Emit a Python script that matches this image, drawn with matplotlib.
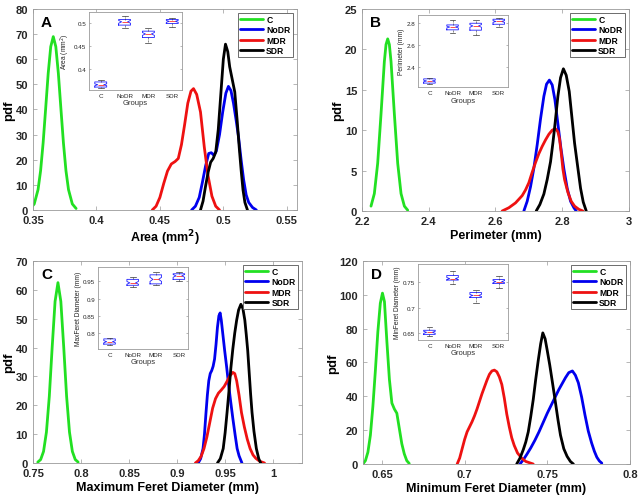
import matplotlib
matplotlib.use("Agg")
import matplotlib.pyplot as plt
from matplotlib.ticker import FormatStrFormatter

plt.rcParams["font.family"] = ["Liberation Sans", "DejaVu Sans"]

GROUPS = ["C", "NoDR", "MDR", "SDR"]
COLORS = {"C": "#22e022", "NoDR": "#0000ee", "MDR": "#ee1111", "SDR": "#000000"}

# ---- A: Area (mm^2) ----
area_c_x = [0.348, 0.351, 0.354, 0.356, 0.358, 0.360, 0.362, 0.364, 0.366, 0.368, 0.370,
            0.372, 0.374, 0.376, 0.378, 0.381, 0.384]
area_c_pdf = [0.6, 2.4, 8.1, 15.6, 26.7, 40.4, 54.4, 65.0, 69.0, 65.0, 54.4,
              40.4, 26.7, 15.6, 8.1, 2.4, 0.6]
area_nodr_x = [0.475, 0.478, 0.481, 0.4835, 0.486, 0.4885, 0.4905, 0.4925, 0.4945, 0.497,
               0.4995, 0.502, 0.504, 0.506, 0.508, 0.510, 0.512, 0.514, 0.516, 0.518,
               0.520, 0.523, 0.526]
area_nodr_pdf = [0, 1.5, 5, 11, 17.5, 22.5, 22.8, 21.8, 23.5, 30,
                 39, 46.5, 49.2, 47.5, 42.5, 36, 29, 20, 12, 6,
                 3, 1, 0]
area_mdr_x = [0.444, 0.447, 0.450, 0.453, 0.456, 0.459, 0.462, 0.4645, 0.467, 0.4695,
              0.472, 0.4745, 0.4765, 0.479, 0.482, 0.485, 0.488, 0.491, 0.494, 0.497]
area_mdr_pdf = [0, 1.5, 5, 10.5, 15.5, 18.3, 19.3, 20.5, 26, 34,
                42.5, 47.3, 48.3, 46, 39, 25, 13.5, 5.5, 1.5, 0]
area_sdr_x = [0.482, 0.484, 0.486, 0.488, 0.490, 0.492, 0.494, 0.496, 0.498, 0.500,
              0.5017, 0.5035, 0.505, 0.507, 0.509, 0.511, 0.5125, 0.514, 0.5155, 0.517, 0.519]
area_sdr_pdf = [0, 3.5, 9.5, 15, 19, 20.5, 23, 32, 46, 60,
                66, 63, 57, 52, 47, 35, 25, 16, 8, 3, 0]

# ---- B: Perimeter (mm) ----
perim_c_x = [2.227, 2.237, 2.247, 2.257, 2.267, 2.272, 2.277, 2.282, 2.287, 2.297,
             2.307, 2.317, 2.327, 2.337]
perim_c_pdf = [0.6, 2.15, 5.9, 12.0, 18.5, 20.6, 21.3, 20.6, 18.5, 12.0,
               5.9, 2.15, 0.6, 0.1]
perim_nodr_x = [2.685, 2.695, 2.705, 2.715, 2.725, 2.735, 2.745, 2.753, 2.7615, 2.770,
                2.778, 2.787, 2.796, 2.805, 2.815, 2.825, 2.835, 2.842]
perim_nodr_pdf = [0, 1.2, 3.0, 5.3, 8.2, 11.4, 14.2, 15.7, 16.2, 15.6,
                  13.8, 10.8, 7.8, 5.2, 2.8, 1.2, 0.4, 0]
perim_mdr_x = [2.620, 2.640, 2.660, 2.680, 2.690, 2.700, 2.710, 2.720, 2.730, 2.740,
               2.750, 2.760, 2.770, 2.7795, 2.787, 2.792, 2.797, 2.802, 2.807, 2.817,
               2.827, 2.837, 2.850, 2.862]
perim_mdr_pdf = [0, 0.4, 1.0, 1.9, 2.6, 3.5, 4.8, 6.0, 7.1, 8.0,
                 8.8, 9.5, 10.0, 10.2, 9.8, 8.9, 7.2, 5.2, 3.9, 2.3,
                 1.2, 0.6, 0.2, 0]
perim_sdr_x = [2.722, 2.733, 2.745, 2.755, 2.765, 2.772, 2.779, 2.787, 2.795, 2.8035,
               2.812, 2.821, 2.829, 2.837, 2.845, 2.855, 2.863, 2.872]
perim_sdr_pdf = [0, 0.8, 2.1, 3.9, 6.1, 8.4, 11.0, 14.2, 16.5, 17.6,
                 16.8, 14.8, 11.6, 8.4, 5.9, 2.8, 1.1, 0]

# ---- C: Maximum Feret Diameter (mm) ----
maxf_c_x = [0.755, 0.758, 0.761, 0.764, 0.767, 0.770, 0.773, 0.776, 0.779, 0.782,
            0.785, 0.788, 0.791, 0.794, 0.797]
maxf_c_pdf = [0.3, 1.2, 4.0, 10.7, 23.1, 40.2, 56, 62.5, 56, 40.2,
              23.1, 10.7, 4.0, 1.2, 0.3]
maxf_nodr_x = [0.922, 0.9245, 0.927, 0.9285, 0.930, 0.9315, 0.933, 0.9345, 0.936, 0.9375,
               0.939, 0.9405, 0.942, 0.9435, 0.9448, 0.946, 0.9475, 0.9495, 0.9515, 0.9535,
               0.9555, 0.958, 0.9605, 0.9625, 0.9645, 0.9675]
maxf_nodr_pdf = [0, 1.5, 5, 10, 17, 23.5, 28.5, 31, 32, 33.5,
                 36, 41, 47, 51, 52, 49.5, 45, 39, 33.5, 27.5,
                 22, 15.5, 9.5, 5, 2.5, 0]
maxf_mdr_x = [0.919, 0.922, 0.925, 0.928, 0.931, 0.934, 0.937, 0.940, 0.943, 0.946,
              0.949, 0.952, 0.955, 0.958, 0.960, 0.962, 0.9645, 0.967, 0.970, 0.973,
              0.976, 0.979, 0.982, 0.986, 0.991]
maxf_mdr_pdf = [0, 0.8, 2.3, 5, 9, 14, 19, 22.3, 24.2, 25.3,
                26.5, 28.3, 30.2, 31.4, 31, 28.5, 23.5, 17.5, 12.5, 8.3,
                5, 2.8, 1.6, 0.6, 0]
maxf_sdr_x = [0.942, 0.945, 0.948, 0.950, 0.952, 0.954, 0.956, 0.958, 0.960, 0.962,
              0.964, 0.9664, 0.9685, 0.9705, 0.972, 0.9735, 0.975, 0.9765, 0.978, 0.980,
              0.9825, 0.985, 0.987]
maxf_sdr_pdf = [0, 1.5, 5, 10.5, 17.5, 25, 33, 39.5, 45, 49.5,
                53, 55, 53.5, 49.5, 44.5, 39, 31.5, 24, 17.5, 11,
                5, 1.5, 0]

# ---- D: Minimum Feret Diameter (mm) ----
minf_c_x = [0.6385, 0.640, 0.6415, 0.643, 0.6445, 0.646, 0.6475, 0.649, 0.6503, 0.6515,
            0.653, 0.6545, 0.656, 0.6575, 0.659, 0.6605, 0.662, 0.6635, 0.665, 0.6665]
minf_c_pdf = [0, 2, 7, 17, 34, 55, 78, 95, 101, 96,
              72, 50, 36, 32.5, 30, 21, 12, 6, 2, 0.3]
minf_nodr_x = [0.7335, 0.7355, 0.7375, 0.740, 0.7425, 0.745, 0.7475, 0.750, 0.7525, 0.755,
               0.757, 0.759, 0.761, 0.763, 0.7652, 0.767, 0.7688, 0.7708, 0.7728, 0.7748,
               0.7768, 0.7785, 0.780, 0.7815, 0.783]
minf_nodr_pdf = [0, 2.5, 5.5, 9.5, 14, 19, 24.5, 30, 35, 40,
                 44, 47.5, 51, 54, 55, 52.5, 48, 39.5, 29, 19.5,
                 12.5, 7.5, 4, 1.8, 0.5]
minf_mdr_x = [0.6955, 0.697, 0.6985, 0.700, 0.7015, 0.703, 0.7045, 0.706, 0.7075, 0.709,
              0.7105, 0.712, 0.7135, 0.715, 0.7165, 0.718, 0.7195, 0.721, 0.7225, 0.724,
              0.7255, 0.727, 0.7285, 0.730, 0.732, 0.7345, 0.737, 0.7415]
minf_mdr_pdf = [0, 3.5, 9, 14.5, 19, 22, 25, 28.5, 32.5, 37,
                41.5, 45.5, 49.5, 53, 55, 55.5, 54.5, 51.5, 47, 39,
                29.5, 22, 15.5, 11, 6.5, 3.5, 1.5, 0]
minf_sdr_x = [0.7315, 0.7335, 0.7355, 0.737, 0.7385, 0.740, 0.7415, 0.743, 0.7445, 0.746,
              0.7473, 0.7487, 0.750, 0.7515, 0.753, 0.7547, 0.7565, 0.758, 0.760, 0.762,
              0.764, 0.7658]
minf_sdr_pdf = [0, 3.5, 8.5, 13, 19, 28, 38, 50, 61, 71,
                77.5, 74, 67, 58.5, 49, 38, 26, 17, 9, 4.5,
                1.5, 0]

# ---- inset boxplots: [whisker low, q1, median, q3, whisker high] per group ----
area_box = [[0.360, 0.362, 0.367, 0.373, 0.378],
            [0.488, 0.495, 0.502, 0.507, 0.514],
            [0.4565, 0.4685, 0.476, 0.482, 0.488],
            [0.490, 0.4985, 0.503, 0.507, 0.510]]
area_notch = [[0.365, 0.369], [0.499, 0.505], [0.473, 0.479], [0.501, 0.505]]
perim_box = [[2.25, 2.258, 2.277, 2.296, 2.305],
             [2.71, 2.735, 2.76, 2.779, 2.82],
             [2.685, 2.732, 2.77, 2.794, 2.82],
             [2.76, 2.785, 2.81, 2.83, 2.845]]
perim_notch = [[2.270, 2.284], [2.752, 2.768], [2.758, 2.782], [2.802, 2.818]]
maxf_box = [[0.767, 0.769, 0.776, 0.784, 0.787],
            [0.933, 0.938, 0.945, 0.955, 0.961],
            [0.938, 0.942, 0.955, 0.968, 0.977],
            [0.950, 0.955, 0.965, 0.971, 0.976]]
maxf_notch = [[0.773, 0.779], [0.941, 0.949], [0.949, 0.961], [0.961, 0.969]]
minf_box = [[0.645, 0.648, 0.652, 0.656, 0.662],
            [0.7455, 0.754, 0.757, 0.763, 0.7725],
            [0.709, 0.720, 0.724, 0.7297, 0.735],
            [0.739, 0.7475, 0.751, 0.755, 0.7615]]
minf_notch = [[0.650, 0.654], [0.755, 0.759], [0.722, 0.726], [0.749, 0.753]]

FRAME = "#9a9a9a"


def style_axes(ax, size, length, pad):
  for sp in ax.spines.values():
    sp.set_color(FRAME)
    sp.set_linewidth(0.6)
  ax.tick_params(direction="in", top=True, right=True, length=length, width=0.5,
                 color=FRAME, labelsize=size, labelcolor="#262626", pad=pad)


def draw_panel(ax, curves, xlim, ylim, xticks, yticks, xlabel, letter):
  # Curves in group order so the legend reads C, NoDR, MDR, SDR
  for name, (xs, ys) in zip(GROUPS, curves):
    ax.plot(xs, ys, color=COLORS[name], lw=2.0, label=name, solid_capstyle="round")
  ax.set_xlim(*xlim)
  ax.set_ylim(*ylim)
  ax.set_xticks(xticks)
  ax.set_yticks(yticks)
  ax.xaxis.set_major_formatter(FormatStrFormatter("%g"))
  style_axes(ax, 8, 3, 3.5)
  for lab in ax.get_xticklabels() + ax.get_yticklabels():
    lab.set_fontweight("bold")
  ax.set_xlabel(xlabel, fontsize=9, fontweight="bold", labelpad=2)
  ax.set_ylabel("pdf", fontsize=9.5, fontweight="bold", labelpad=0.5)
  ax.text(0.03, 0.97, letter, transform=ax.transAxes, ha="left", va="top",
          fontsize=11, fontweight="bold")
  leg = ax.legend(loc="upper right", prop={"weight": "bold", "size": 6.2},
                  handlelength=2.6, handletextpad=0.4, labelspacing=0.12,
                  borderpad=0.3, borderaxespad=0.45, fancybox=False, framealpha=1)
  leg.get_frame().set_edgecolor("#555555")
  leg.get_frame().set_linewidth(0.6)


def draw_inset(fig, rect, boxes, notches, ylim, yticks, ylabel):
  ax = fig.add_axes(rect)
  stats = []
  for name, b, n in zip(GROUPS, boxes, notches):
    stats.append(dict(whislo=b[0], q1=b[1], med=b[2], q3=b[3], whishi=b[4],
                      cilo=n[0], cihi=n[1], fliers=[], label=name))
  ax.bxp(stats, shownotches=True, widths=0.5, showfliers=False,
         boxprops=dict(color="#2020ff", lw=0.6),
         medianprops=dict(color="#ff3030", lw=0.6),
         whiskerprops=dict(color="#333333", lw=0.4, ls="--"),
         capprops=dict(color="#333333", lw=0.5))
  ax.set_xlim(0.5, 4.4)
  ax.set_ylim(*ylim)
  ax.set_yticks(yticks)
  ax.yaxis.set_major_formatter(FormatStrFormatter("%g"))
  style_axes(ax, 4.5, 1.5, 2)
  ax.tick_params(axis="x", length=0)
  ax.set_xlabel("Groups", fontsize=5.5, color="#333333", labelpad=1)
  ax.set_ylabel(ylabel, fontsize=4.8, color="#222222", labelpad=1)
  return ax


fig = plt.figure(figsize=(6.39, 5.02), dpi=100)

ax_a = fig.add_axes([0.0516, 0.5797, 0.4131, 0.4004])
draw_panel(ax_a,
           [(area_c_x, area_c_pdf), (area_nodr_x, area_nodr_pdf),
            (area_mdr_x, area_mdr_pdf), (area_sdr_x, area_sdr_pdf)],
           (0.35, 0.558), (0, 80), [0.35, 0.4, 0.45, 0.5, 0.55], range(0, 81, 10),
           "Area (mm$^{\\mathbf{2}}$)", "A")
draw_inset(fig, [0.139, 0.819, 0.1455, 0.155], area_box, area_notch,
           (0.356, 0.523), [0.4, 0.45, 0.5], "Area (mm$^2$)")

ax_b = fig.add_axes([0.5665, 0.5777, 0.4178, 0.4024])
draw_panel(ax_b,
           [(perim_c_x, perim_c_pdf), (perim_nodr_x, perim_nodr_pdf),
            (perim_mdr_x, perim_mdr_pdf), (perim_sdr_x, perim_sdr_pdf)],
           (2.2, 3.0), (0, 25), [2.2, 2.4, 2.6, 2.8, 3.0], range(0, 26, 5),
           "Perimeter (mm)", "B")
draw_inset(fig, [0.654, 0.824, 0.141, 0.1446], perim_box, perim_notch,
           (2.22, 2.87), [2.4, 2.6, 2.8], "Perimeter (mm)")

ax_c = fig.add_axes([0.0516, 0.0757, 0.421, 0.4024])
draw_panel(ax_c,
           [(maxf_c_x, maxf_c_pdf), (maxf_nodr_x, maxf_nodr_pdf),
            (maxf_mdr_x, maxf_mdr_pdf), (maxf_sdr_x, maxf_sdr_pdf)],
           (0.75, 1.03), (0, 70), [0.75, 0.8, 0.85, 0.9, 0.95, 1.0], range(0, 71, 10),
           "Maximum Feret Diameter (mm)", "C")
draw_inset(fig, [0.1534, 0.3028, 0.141, 0.163], maxf_box, maxf_notch,
           (0.755, 0.99), [0.8, 0.85, 0.9, 0.95], "MaxFeret Diameter (mm)")

ax_d = fig.add_axes([0.568, 0.0737, 0.4178, 0.4044])
draw_panel(ax_d,
           [(minf_c_x, minf_c_pdf), (minf_nodr_x, minf_nodr_pdf),
            (minf_mdr_x, minf_mdr_pdf), (minf_sdr_x, minf_sdr_pdf)],
           (0.6385, 0.8), (0, 120), [0.65, 0.7, 0.75, 0.8], range(0, 121, 20),
           "Minimum Feret Diameter (mm)", "D")
draw_inset(fig, [0.654, 0.3207, 0.141, 0.151], minf_box, minf_notch,
           (0.637, 0.785), [0.65, 0.7, 0.75], "MinFeret Diameter (mm)")

fig.savefig("out.png", dpi=100)
